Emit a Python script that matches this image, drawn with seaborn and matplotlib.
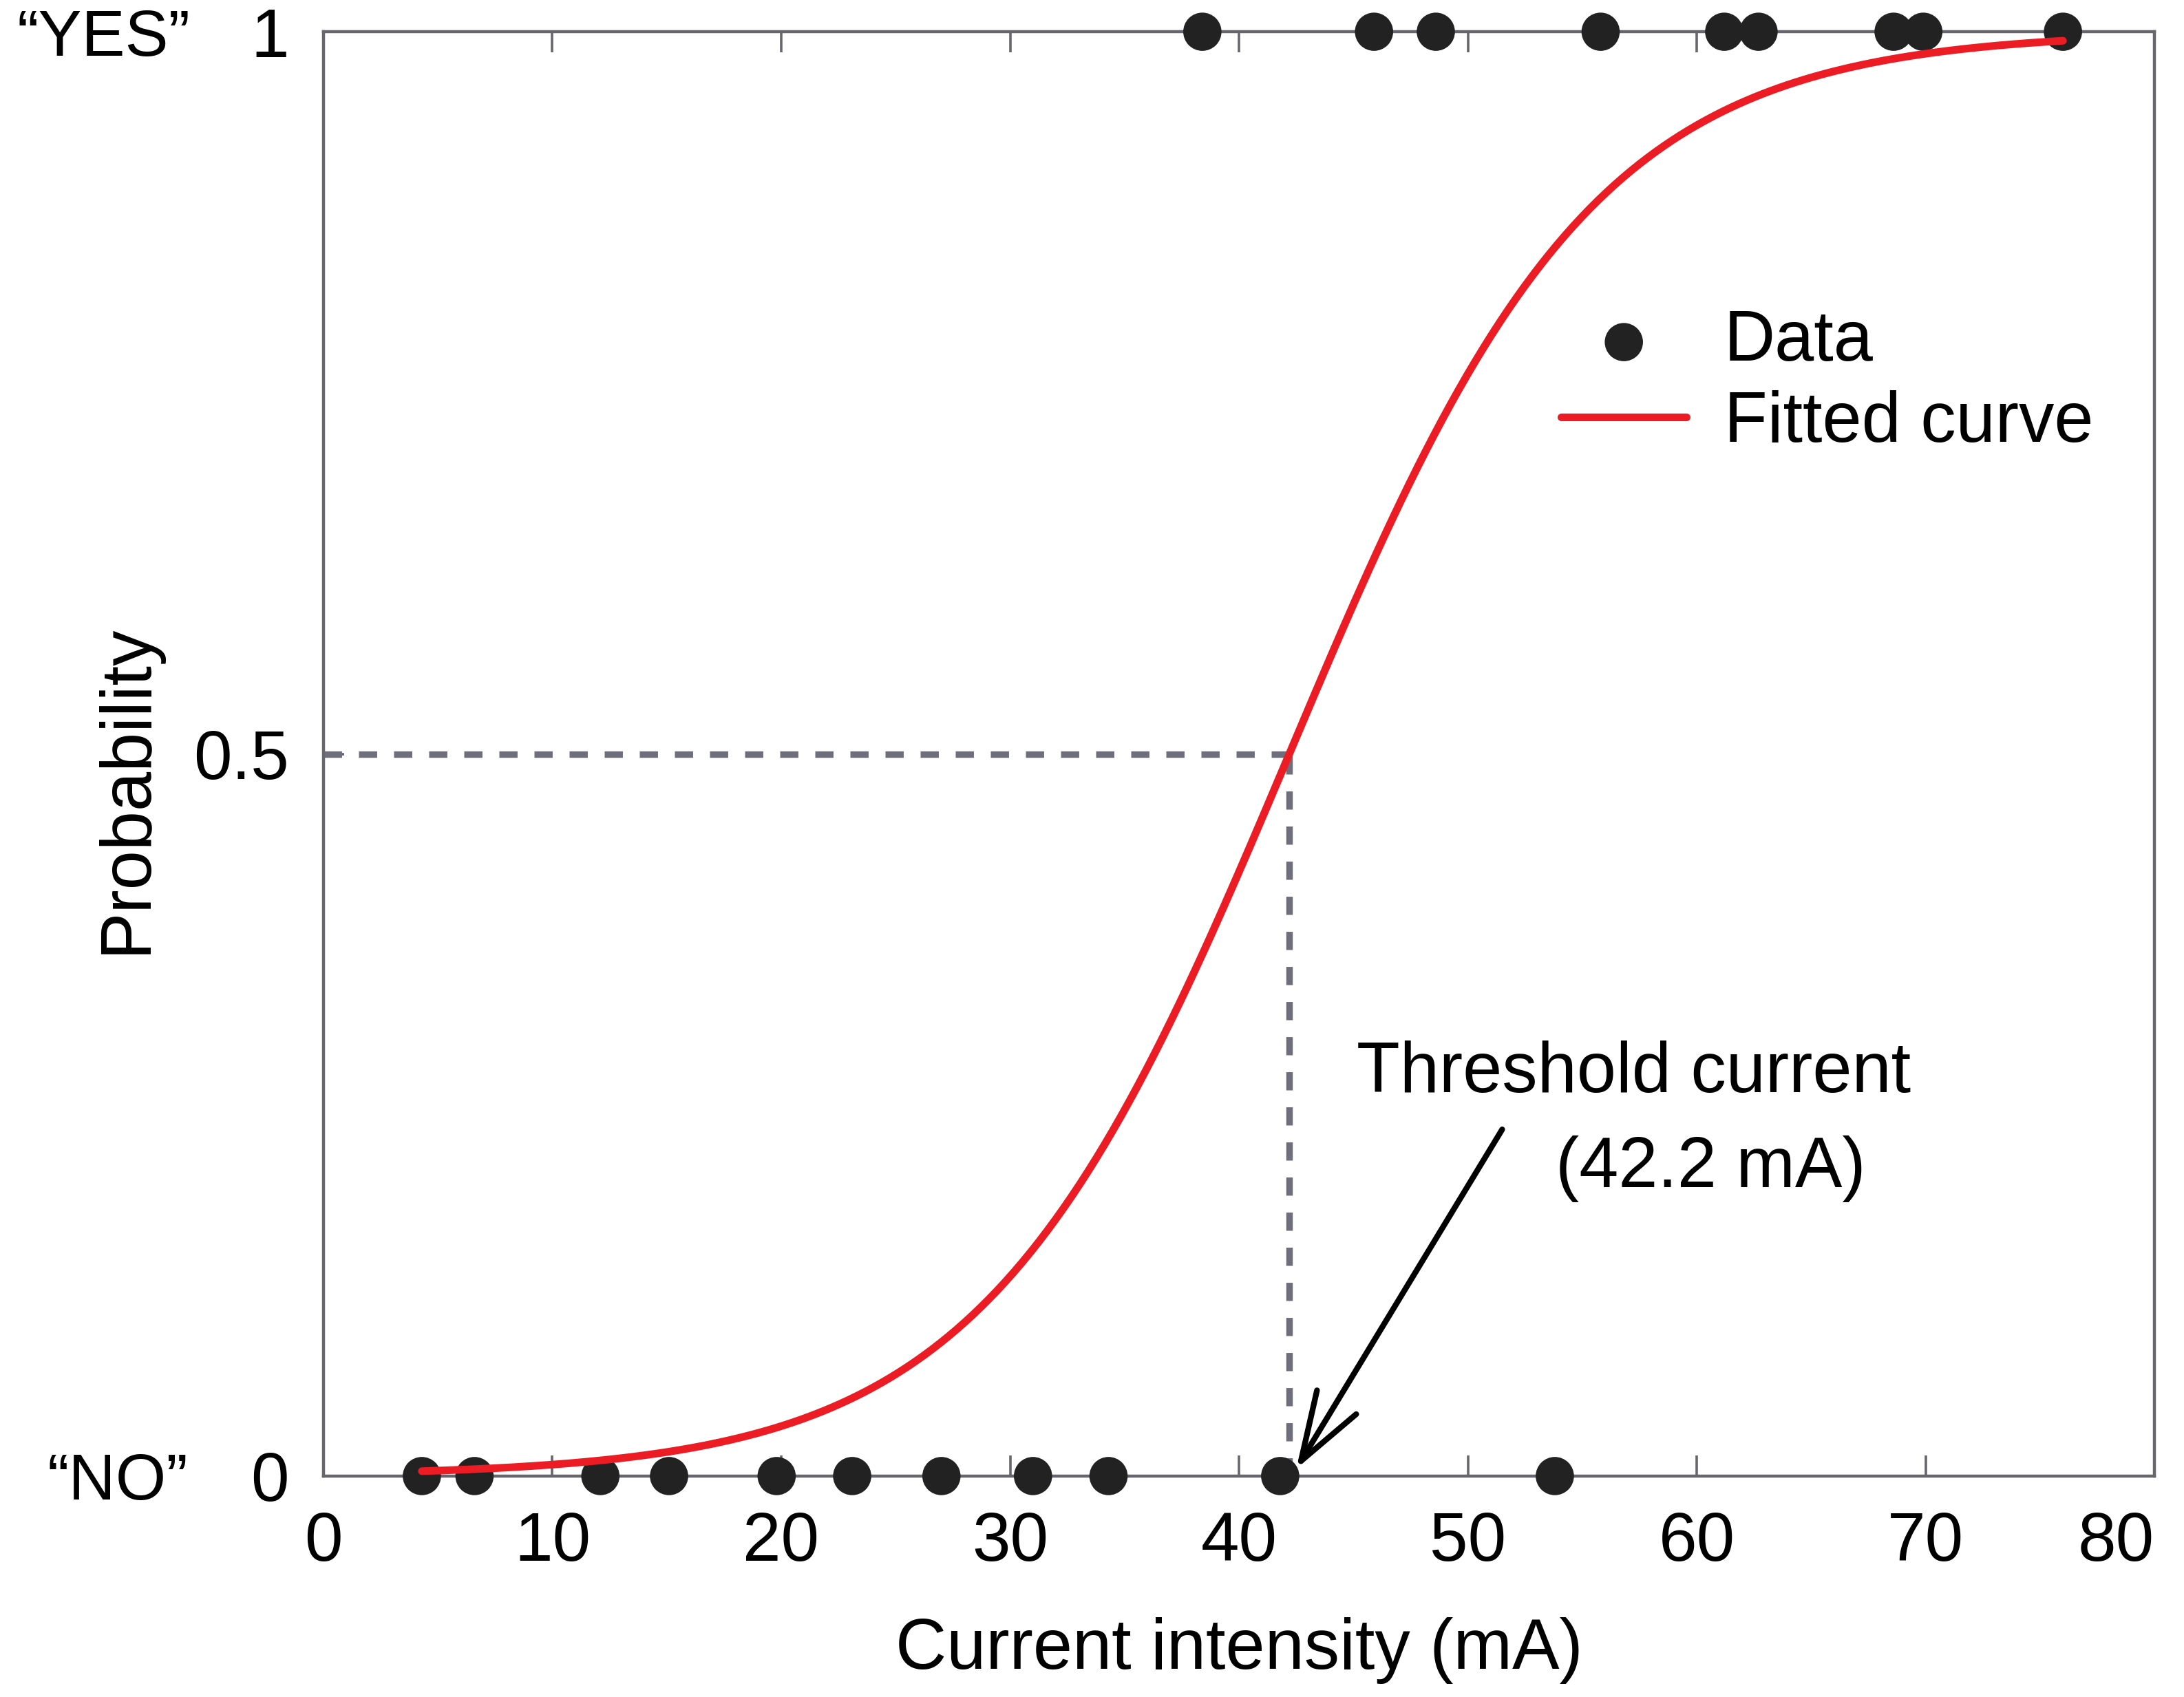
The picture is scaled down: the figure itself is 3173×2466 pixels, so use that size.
"""Dose-response style chart: probability of a "YES" response vs current intensity.

Binary observations (0 = "NO", 1 = "YES") with a fitted logistic curve
and the 50 % threshold current marked by dashed guides and an arrow.
"""

from __future__ import annotations

import matplotlib.pyplot as plt
import numpy as np
import pandas as pd
import seaborn as sns


NO_CURRENT = [4.3, 6.6, 12.1, 15.1, 19.8, 23.1, 27.0, 31.0, 34.3, 41.8, 53.8]
YES_CURRENT = [38.4, 45.9, 48.6, 55.8, 61.2, 62.7, 68.6, 69.9, 76.0]

# Fitted logistic model parameters
THRESHOLD = 42.2  # mA, current at probability 0.5
SLOPE = 0.15  # 1/mA

X_TICKS = [0, 10, 20, 30, 40, 50, 60, 70, 80]
Y_TICKS = [0, 0.5, 1]
Y_TICK_LABELS = ["0", "0.5", "1"]

OUTPUT_FILE = "out.png"

RED = "#ec1c24"
DOT = "#222222"
SPINE = "#66666c"
GUIDE = "#6e6e7c"


def logistic(x: np.ndarray) -> np.ndarray:
    """Fitted response probability."""
    return 1.0 / (1.0 + np.exp(-SLOPE * (x - THRESHOLD)))


def main() -> None:
    sns.set_theme(style="ticks")
    plt.rcParams["font.family"] = ["Liberation Sans", "DejaVu Sans"]
    plt.rcParams["text.color"] = "black"
    plt.rcParams["axes.labelcolor"] = "black"
    plt.rcParams["xtick.labelcolor"] = "black"
    plt.rcParams["ytick.labelcolor"] = "black"

    obs = pd.DataFrame(
        {
            "current": NO_CURRENT + YES_CURRENT,
            "response": [0] * len(NO_CURRENT) + [1] * len(YES_CURRENT),
        }
    )
    curve_x = np.linspace(min(NO_CURRENT), max(YES_CURRENT), 400)
    curve = pd.DataFrame({"current": curve_x, "prob": logistic(curve_x)})

    fig = plt.figure(figsize=(15.865, 12.33), dpi=200)
    ax = fig.add_axes([0.1481, 0.1302, 0.8384, 0.8511])

    # dashed guides to the threshold
    ax.plot([0, THRESHOLD], [0.5, 0.5], color=GUIDE, lw=3.4,
            dashes=(2.8, 2.6), zorder=2)
    ax.plot([THRESHOLD, THRESHOLD], [0, 0.5], color=GUIDE, lw=3.4,
            dashes=(2.8, 2.6), zorder=2)

    sns.scatterplot(data=obs, x="current", y="response", ax=ax, s=400,
                    color=DOT, edgecolor="none", linewidth=0, clip_on=False,
                    zorder=5, label="Data", legend=False)
    sns.lineplot(data=curve, x="current", y="prob", ax=ax, color=RED,
                 lw=4.0, label="Fitted curve", zorder=6, legend=False)

    ax.set_xlim(0, 80)
    ax.set_ylim(0, 1)
    ax.set_xticks(X_TICKS)
    ax.set_yticks(Y_TICKS)
    ax.set_yticklabels(Y_TICK_LABELS)

    ax.tick_params(axis="x", direction="in", top=True, length=10.8,
                   width=1.3, color=SPINE, labelsize=36, pad=18)
    ax.tick_params(axis="y", direction="in", length=10.8, width=1.3,
                   color=SPINE, labelsize=36, pad=18)
    # keep the last x label inside the figure, as in the original
    ax.get_xticklabels()[-1].set_horizontalalignment("right")
    for spine in ax.spines.values():
        spine.set_color(SPINE)
        spine.set_linewidth(1.6)
        spine.set_visible(True)

    ax.set_xlabel("Current intensity (mA)", fontsize=37, labelpad=22)
    ax.set_ylabel("Probability", fontsize=37)
    ax.yaxis.set_label_coords(-0.089, 0.476)

    # response category names next to the 0 / 1 ticks
    ax.text(-0.0726, 1, "\u201cYES\u201d", transform=ax.get_yaxis_transform(),
            ha="right", va="center_baseline", fontsize=34)
    ax.text(-0.074, 0, "\u201cNO\u201d", transform=ax.get_yaxis_transform(),
            ha="right", va="center_baseline", fontsize=34)

    ax.annotate(
        "",
        xy=(42.5, 0.005),
        xytext=(51.5, 0.24),
        arrowprops=dict(arrowstyle="->,head_length=1.8,head_width=0.6",
                        color="black", lw=3.0, shrinkA=0, shrinkB=0,
                        mutation_scale=20),
        zorder=7,
    )
    ax.text(57.26, 0.266, "Threshold current", ha="center", va="baseline",
            fontsize=37)
    ax.text(60.6, 0.20, f"({THRESHOLD:.1f} mA)", ha="center", va="baseline",
            fontsize=37)

    handles, labels = ax.get_legend_handles_labels()
    order = [labels.index("Data"), labels.index("Fitted curve")]
    ax.legend([handles[i] for i in order], [labels[i] for i in order],
              loc="upper left", bbox_to_anchor=(0.676, 0.808),
              borderaxespad=0, borderpad=0, frameon=False, fontsize=37,
              handlelength=1.77, handletextpad=0.53, labelspacing=0.2)

    fig.savefig(OUTPUT_FILE, dpi=200)
    plt.close(fig)


if __name__ == "__main__":
    main()
